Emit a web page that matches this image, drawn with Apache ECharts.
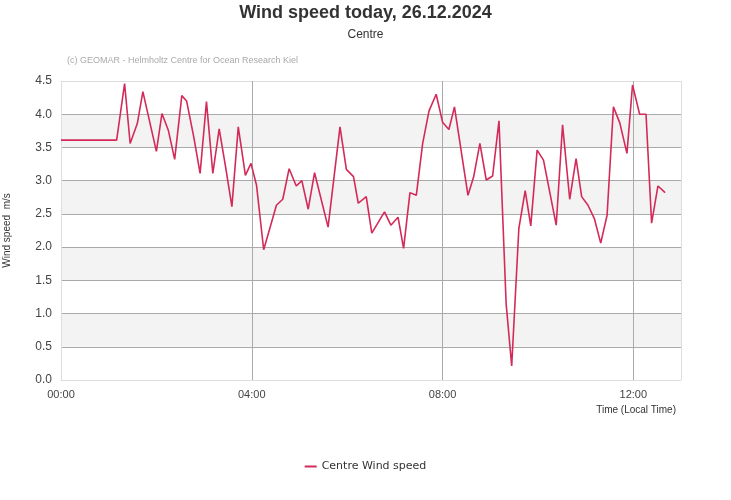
<!DOCTYPE html>
<html>
<head>
<meta charset="utf-8">
<script src="https://cdn.jsdelivr.net/npm/echarts@6/dist/echarts.min.js"></script>
<style>html,body{margin:0;padding:0;background:#fff}#c{width:731px;height:500px}</style>
</head>
<body>
<div id="c"></div>
<script>
// minutes since 00:00
var times = [0, 70, 80, 87, 96, 103, 120, 127, 135, 143, 152, 158, 167, 175, 183, 191, 199, 207, 215, 223, 232, 239, 246,
  255, 271, 279, 287, 296, 303, 311, 319, 336, 351, 359, 368, 374, 384, 391, 407, 415, 424, 431, 439, 447, 455, 463, 472, 480, 488,
  495, 512, 519, 527, 535, 543, 551, 560, 567, 576, 584, 591, 599, 607, 623, 631, 640, 648, 655, 663, 671, 679, 687, 695, 703, 712,
  719, 728, 736, 743, 751, 760];
var speeds = [3.61, 3.61, 4.46, 3.56, 3.86, 4.34, 3.44, 4.01, 3.76, 3.32, 4.28, 4.20, 3.66, 3.11, 4.19, 3.11, 3.78, 3.21, 2.61, 3.81, 3.08, 3.26, 2.93,
  1.96, 2.63, 2.72, 3.18, 2.92, 3.00, 2.57, 3.12, 2.30, 3.81, 3.17, 3.06, 2.66, 2.76, 2.21, 2.53, 2.33, 2.45, 1.98, 2.82, 2.78, 3.56, 4.05, 4.30, 3.88, 3.77,
  4.11, 2.78, 3.05, 3.56, 3.01, 3.07, 3.90, 1.15, 0.21, 2.28, 2.85, 2.32, 3.46, 3.31, 2.33, 3.84, 2.72, 3.33, 2.76, 2.63, 2.43, 2.06, 2.48, 4.11, 3.87, 3.41,
  4.44, 4.00, 4.00, 2.36, 2.92, 2.82];
var seriesName = 'Centre Wind speed';
var titleText = 'Wind speed today, 26.12.2024';
var subtitleText = 'Centre';
var creditText = '(c) GEOMAR - Helmholtz Centre for Ocean Research Kiel';
var yAxisName = 'Wind speed  m/s';
var xAxisName = 'Time (Local Time)';

var data = times.map(function (t, i) { return [t, speeds[i]]; });
function pad(n) { return (n < 10 ? '0' : '') + n; }

var chart = echarts.init(document.getElementById('c'));
chart.setOption({
  animation: false,
  title: [
    { text: titleText, subtext: subtitleText, left: 'center', top: -1, itemGap: 7,
      textStyle: { fontFamily: 'Liberation Sans', fontSize: 18, fontWeight: 'bold', color: '#333' },
      subtextStyle: { fontFamily: 'Liberation Sans', fontSize: 12, color: '#333' } },
    { text: creditText, left: 62, top: 51,
      textStyle: { fontFamily: 'Liberation Sans', fontSize: 9, fontWeight: 'normal', color: '#aaa' } },
    { text: xAxisName, right: 50, top: 400,
      textStyle: { fontFamily: 'Liberation Sans', fontSize: 10, fontWeight: 'normal', color: '#333' } }
  ],
  legend: {
    bottom: 23, left: 'center', itemWidth: 12, itemHeight: 2, icon: 'rect',
    textStyle: { fontFamily: 'DejaVu Sans', fontSize: 11, color: '#333' },
    data: [seriesName]
  },
  grid: { left: 61, right: 50, top: 81, bottom: 120, containLabel: false, outerBoundsMode: 'none' },
  xAxis: {
    type: 'value', min: 0, max: 780, interval: 240,
    axisLine: { show: true, lineStyle: { color: '#ddd' } },
    axisTick: { show: false },
    axisLabel: { fontFamily: 'Liberation Sans', fontSize: 11, color: '#444', margin: 9, showMaxLabel: false,
      formatter: function (v) { return pad(Math.floor(v / 60)) + ':' + pad(v % 60); } },
    splitLine: { show: true, lineStyle: { color: ['#ddd', '#aaa', '#aaa', '#aaa', '#ddd'], width: 1 } }
  },
  yAxis: {
    type: 'value', min: 0, max: 4.5, interval: 0.5,
    name: yAxisName, nameLocation: 'middle', nameGap: 49,
    nameTextStyle: { fontFamily: 'Liberation Sans', fontSize: 10, color: '#333' },
    axisLine: { show: false },
    axisTick: { show: false },
    axisLabel: { fontFamily: 'Liberation Sans', fontSize: 12, color: '#444', margin: 9,
      formatter: function (v) { return v.toFixed(1); } },
    splitLine: { show: true, lineStyle: { color: ['#ddd', '#aaa', '#aaa', '#aaa', '#aaa', '#aaa', '#aaa', '#aaa', '#aaa', '#ddd'], width: 1 } },
    splitArea: { show: true, areaStyle: { color: ['#ffffff', '#f3f3f3'] } }
  },
  series: [{
    name: seriesName, type: 'line', data: data, showSymbol: false, symbol: 'none',
    lineStyle: { color: '#d32a5a', width: 1.6 }, itemStyle: { color: '#d32a5a' }
  }]
});
</script>
</body>
</html>
